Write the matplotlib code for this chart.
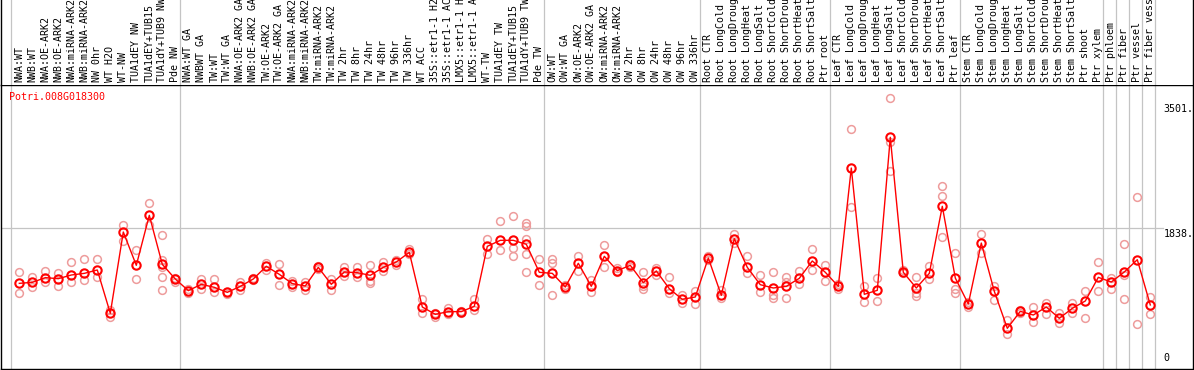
import matplotlib
matplotlib.use('Agg')
import matplotlib.pyplot as plt

gene = 'Potri.008G018300'

labels = [
    'NWA:WT', 'NWB:WT', 'NWA:OE-ARK2', 'NWB:OE-ARK2', 'NWA:miRNA-ARK2', 'NWB:miRNA-ARK2',
    'NW 0hr', 'WT H2O', 'WT-NW', 'TUA1dEY NW', 'TUA1dEY+TUB15', 'TUA1dY+TUB9 NW', 'Pde NW',
    'NWA:WT GA', 'NWBWT GA', 'TW:WT', 'TW:WT GA', 'NWA:OE-ARK2 GA', 'NWB:OE-ARK2 GA',
    'TW:OE-ARK2', 'TW:OE-ARK2 GA', 'NWA:miRNA-ARK2', 'NWB:miRNA-ARK2', 'TW:miRNA-ARK2',
    'TW:miRNA-ARK2', 'TW 2hr', 'TW 8hr', 'TW 24hr', 'TW 48hr', 'TW 96hr', 'TW 336hr',
    'WT ACC', '35S::etr1-1 H2', '35S::etr1-1 AC', 'LMX5::etr1-1 H', 'LMX5::etr1-1 A',
    'WT-TW', 'TUA1dEY TW', 'TUA1dEY+TUB15', 'TUA1dY+TUB9 TW', 'Pde TW',
    'OW:WT', 'OW:WT GA', 'OW:OE-ARK2', 'OW:OE-ARK2 GA', 'OW:miRNA-ARK2', 'OW:miRNA-ARK2',
    'OW 2hr', 'OW 8hr', 'OW 24hr', 'OW 48hr', 'OW 96hr', 'OW 336hr',
    'Root CTR', 'Root LongCold', 'Root LongDroug', 'Root LongHeat', 'Root LongSalt',
    'Root ShortCold', 'Root ShortDrou', 'Root ShortHeat', 'Root ShortSalt', 'Ptr root',
    'Leaf CTR', 'Leaf LongCold', 'Leaf LongDroug', 'Leaf LongHeat', 'Leaf LongSalt',
    'Leaf ShortCold', 'Leaf ShortDrou', 'Leaf ShortHeat', 'Leaf ShortSalt', 'Ptr leaf',
    'Stem CTR', 'Stem LongCold', 'Stem LongDroug', 'Stem LongHeat', 'Stem LongSalt',
    'Stem ShortCold', 'Stem ShortDrou', 'Stem ShortHeat', 'Stem ShortSalt', 'Ptr shoot',
    'Ptr xylem', 'Ptr phloem', 'Ptr fiber', 'Ptr vessel', 'Ptr fiber vess',
]

group_sizes = [13, 28, 12, 10, 10, 11, 1, 1, 1, 1]

means = [
    1105, 1118, 1181, 1167, 1216, 1238, 1283, 706, 1789, 1345, 2011, 1358, 1163,
    1008, 1092, 1052, 985, 1065, 1163, 1332, 1225, 1101, 1070, 1318, 1092, 1256,
    1247, 1212, 1318, 1389, 1518, 790, 692, 728, 728, 799, 1598, 1678, 1678, 1625, 1252,
    1238, 1056, 1372, 1065, 1465, 1274, 1345, 1114, 1270, 1034, 892, 923,
    1443, 945, 1700, 1318, 1087, 1043, 1065, 1172, 1403, 1252,
    1065, 2641, 959, 1012, 3050, 1252, 1043, 1238, 2131, 1176,
    830, 1642, 999, 506, 732, 683, 790, 639, 772, 870, 1185,
    1123, 1256, 1420, 817,
]

reps = [
    [1252, 972], [1185, 1061], [1270, 1127], [1238, 1065], [1389, 1127], [1425, 1150],
    [1425, 1185], [661, 750], [1878, 1669], [1545, 1159], [2175, 1882],
    [1749, 1416, 1327, 1185, 1012], [1181, 1127],
    [1030, 972], [1159, 1030], [1159, 994], [994, 959], [1127, 1016], [1172, 1150],
    [1372, 1283], [1358, 1079], [1136, 1061], [1127, 1016], [1336, 1292], [1163, 1016],
    [1323, 1203], [1323, 1194], [1345, 1136, 1105], [1389, 1270], [1416, 1349],
    [1558, 1491], [897, 706], [714, 661], [772, 692], [737, 714], [892, 750],
    [1691, 1491], [1936, 1549], [2002, 1571, 1465], [1913, 1869, 1696, 1496, 1256],
    [1425, 1079],
    [1425, 1372, 950], [1083, 1030], [1469, 1274], [1150, 985], [1616, 1318], [1305, 1252],
    [1358, 1327], [1261, 1070, 1030], [1305, 1216], [1185, 972], [950, 839], [1008, 834],
    [1474, 1416], [1016, 914], [1762, 1638], [1474, 1238], [1212, 994], [1256, 950, 905],
    [1185, 1127, 905], [1265, 1096], [1558, 1283], [1345, 1132],
    [1092, 1030], [3156, 2118], [1065, 852], [1172, 870], [3569, 2992, 2597], [1283, 1238],
    [1185, 972, 941], [1336, 1159], [2402, 2264, 1718], [1505, 1030, 972],
    [861, 794], [1758, 1514], [1070, 879], [617, 426], [746, 714], [790, 595], [839, 701],
    [714, 572], [848, 706], [1003, 639], [1385, 1003],
    [1172, 1030], [1629, 1216, 897], [2251, 564], [928, 697],
]

y_ticks = [0, 1838, 3501]
y_tick_labels = ['0', '1838.', '3501.']

mono = 'DejaVu Sans Mono'
fs = 7.2
grid_c = '#c4c4c4'
W, H = 1194, 370

fig = plt.figure(figsize=(W / 100, H / 100), dpi=100)
left = 0.7 / W
width = 1192 / W
ax = fig.add_axes([left, 1 / H, width, 284 / H])
ax_top = fig.add_axes([left, 285 / H, width, 86 / H], sharex=ax)

x = list(range(len(labels)))
ax.set_xlim((0.7 - 19.3) / 13, (1192.7 - 19.3) / 13)
ax.set_ylim(-36, 3747)
ax_top.set_ylim(0, 1)

# group separators
start = 0
bounds = [-0.62]
for n in group_sizes:
    start += n
    bounds.append(start - 0.62)
for b in bounds:
    ax.axvline(b, color=grid_c, lw=0.9, zorder=0)
    ax_top.axvline(b, color=grid_c, lw=0.9, zorder=0)
ax.axhline(1838, xmin=0, xmax=(1163 - 0.7) / 1192, color=grid_c, lw=0.9, zorder=0)

# replicates
for i, r in enumerate(reps):
    ax.plot([i] * len(r), r, 'o', ms=5.6, mfc='none', mec='#ee9c9c', mew=1.1, zorder=2)

ax.plot(x, means, '-', color='red', lw=1.0, zorder=3)
ax.plot(x, means, 'o', ms=6, mfc='none', mec='red', mew=1.5, zorder=4)

ax.text(0.0072, 0.959, gene, transform=ax.transAxes, color='red', family=mono,
        fontsize=fs, va='center', ha='left')

for v, t in zip(y_ticks, y_tick_labels):
    if v == 0:
        ax.text(88.0, v + 40, t, family=mono, fontsize=fs, ha='left', va='bottom')
    else:
        ax.text(88.0, v - 10, t, family=mono, fontsize=fs, ha='left', va='top')

for i, lab in enumerate(labels):
    ax_top.text(i, 2.5 / 86, lab, rotation=90, family=mono, fontsize=fs,
                ha='center', va='bottom')

for a in (ax, ax_top):
    a.set_xticks([])
    a.set_yticks([])
    for s in a.spines.values():
        s.set_color('black')
        s.set_linewidth(1.0)
ax_top.spines['bottom'].set_visible(False)
ax_top.spines['top'].set_visible(False)

fig.savefig('out.png', dpi=100)
